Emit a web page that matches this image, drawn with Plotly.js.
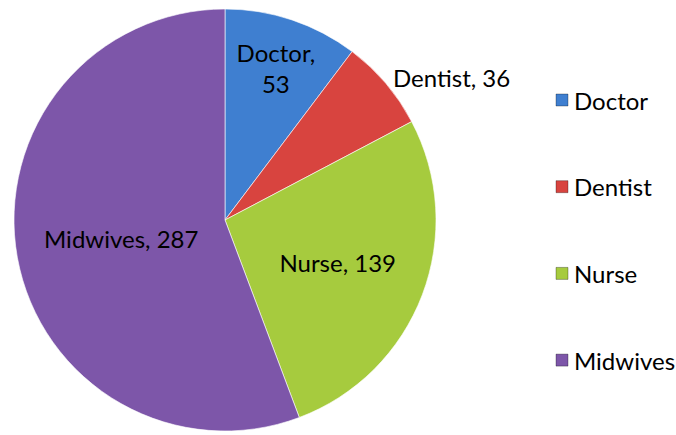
<!DOCTYPE html>
<html><head><meta charset="utf-8">
<script src="https://cdn.plot.ly/plotly-3.0.1.min.js"></script>
<style>body{margin:0;background:#fff}#chart{width:676px;height:435px}</style>
</head><body><div id="chart"></div>
<script>
const categories = ["Doctor", "Dentist", "Nurse", "Midwives"];
const values = [53, 36, 139, 287];
const colors = ["#3f7fd0", "#d8443f", "#a6cb3e", "#7d56a9"];
const labelTemplates = ["%{label},<br>%{value}", "%{label}, %{value}", "%{label}, %{value}", "%{label}, %{value}"];
const labelPositions = ["inside", "outside", "inside", "inside"];

const W = 676, H = 435;
const FONT = "Lato, 'Liberation Sans', sans-serif";
const FS = 24;

const pie = {
  type: "pie",
  labels: categories,
  values: values,
  sort: false,
  direction: "clockwise",
  rotation: 0,
  marker: {colors: colors, line: {color: "rgba(255,255,255,0.6)", width: 1}},
  texttemplate: labelTemplates,
  textposition: labelPositions,
  insidetextorientation: "horizontal",
  textfont: {family: FONT, size: FS, color: "#000"},
  outsidetextfont: {family: FONT, size: FS, color: "#000"},
  insidetextfont: {family: FONT, size: FS, color: "#000"},
  showlegend: false,
  hoverinfo: "label+value",
  domain: {x: [14 / W, 436 / W], y: [4 / H, 426 / H]}
};

// Legend drawn as layout decorations (one per category)
const legTop = 100, legStep = 86.7, boxX0 = 556, boxSize = 12, textX = 572;
const shapes = categories.map((c, i) => {
  const yc = legTop + legStep * i;
  return {
    type: "rect", xref: "paper", yref: "paper",
    x0: boxX0 / W, x1: (boxX0 + boxSize) / W,
    y0: (H - yc - boxSize / 2) / H, y1: (H - yc + boxSize / 2) / H,
    fillcolor: colors[i], line: {color: "rgba(0,0,0,0.3)", width: 1}
  };
});
const annotations = categories.map((c, i) => {
  const yc = legTop + legStep * i;
  return {
    xref: "paper", yref: "paper", x: textX / W, y: (H - yc) / H,
    xanchor: "left", yanchor: "middle", showarrow: false,
    text: c, font: {family: FONT, size: FS, color: "#000"}
  };
});

const layout = {
  width: W, height: H,
  margin: {l: 0, r: 0, t: 0, b: 0},
  paper_bgcolor: "#fff",
  font: {family: FONT, size: FS, color: "#000"},
  showlegend: false,
  shapes: shapes,
  annotations: annotations
};

Plotly.newPlot("chart", [pie], layout, {displayModeBar: false, staticPlot: true});
</script>
</body></html>
